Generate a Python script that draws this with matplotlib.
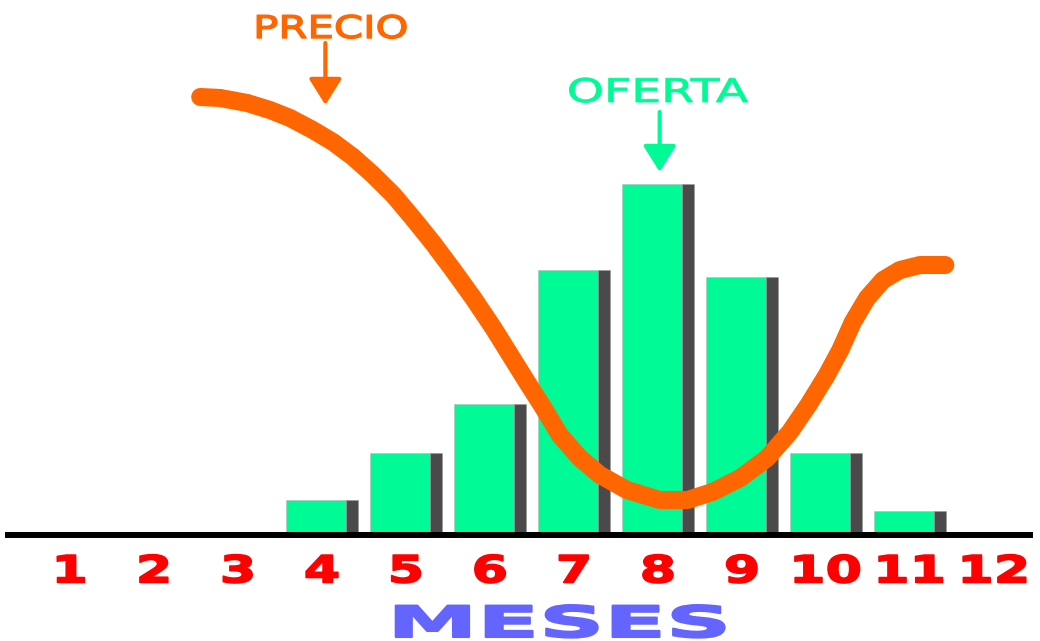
import numpy as np
import matplotlib
matplotlib.use("Agg")
import matplotlib.pyplot as plt
import matplotlib.patheffects as pe
from matplotlib.transforms import Affine2D

# offer (bars) per month, arbitrary units
months = [1, 2, 3, 4, 5, 6, 7, 8, 9, 10, 11, 12]
month_labels = ["1", "2", "3", "4", "5", "6", "7", "8", "9", "10", "11", "12"]
bar_months = [4, 5, 6, 7, 8, 9, 10, 11]
oferta = [3.5, 8.2, 13.1, 26.5, 35.1, 25.8, 8.2, 2.4]

# price curve
precio_x = [2.55, 2.79, 3.11, 3.38, 3.62, 3.89, 4.13, 4.37, 4.61, 4.85,
            5.08, 5.32, 5.56, 5.80, 6.04, 6.24, 6.44, 6.63, 6.83, 7.07,
            7.31, 7.63, 8.02, 8.35, 8.65, 8.98, 9.30, 9.57, 9.79, 10.01,
            10.17, 10.32, 10.49, 10.68, 10.88, 11.12, 11.42]
precio_y = [43.8, 43.7, 43.2, 42.5, 41.7, 40.5, 39.3, 37.8, 36.0, 34.0,
            31.7, 29.2, 26.5, 23.7, 20.7, 18.0, 15.3, 12.8, 10.0, 7.7,
            6.0, 4.5, 3.5, 3.5, 4.3, 5.7, 7.7, 10.3, 13.0, 16.0,
            18.5, 21.3, 23.7, 25.5, 26.5, 27.0, 27.0]

GREEN = "#00FA96"
SHADOW = "#4A4A4A"
ORANGE = "#FF6600"
RED = "#FF0000"
BLUE = "#6464FF"


class Stretch(pe.AbstractPathEffect):
    # widen text horizontally around its own centre, optionally thicken it
    def __init__(self, sx, stroke=0):
        super().__init__()
        self.sx = sx
        self.stroke = stroke

    def draw_path(self, renderer, gc, tpath, affine, rgbFace=None):
        ext = tpath.get_extents(affine)
        cx = (ext.x0 + ext.x1) / 2
        affine = affine + Affine2D().translate(-cx, 0).scale(self.sx, 1).translate(cx, 0)
        gc0 = renderer.new_gc()
        gc0.copy_properties(gc)
        if self.stroke:
            gc0.set_linewidth(self.stroke)
            gc0.set_foreground(rgbFace)
            gc0.set_joinstyle("round")
        renderer.draw_path(gc0, tpath, affine, rgbFace)
        gc0.restore()


fig = plt.figure(figsize=(10.4, 6.41), dpi=100)
ax = fig.add_axes([0, 106 / 641, 1, 535 / 641])
ax.set_xlim(1 - 70 / 84, 1 + 970 / 84)
ax.set_ylim(0, 53.5)

left = np.array(bar_months) - 0.43
ax.bar(left, oferta, width=0.714, align="edge", color=GREEN,
       edgecolor="#BBBBBB", linewidth=0.4, zorder=2)
ax.bar(left + 0.714, oferta, width=0.143, align="edge", color=SHADOW,
       edgecolor="#999999", linewidth=0.4, zorder=2)

ax.plot(precio_x, precio_y, color=ORANGE, lw=13, solid_capstyle="round",
        solid_joinstyle="round", zorder=3)

# labels with arrows
ax.text(4.11, 49.7, "PRECIO", color=ORANGE, fontsize=22.5, ha="center",
        va="baseline", path_effects=[Stretch(1.34, 1.0)])
ax.annotate("", xy=(4.04, 43.0), xytext=(4.04, 49.2),
            arrowprops=dict(arrowstyle="-|>,head_length=0.8,head_width=0.5",
                            mutation_scale=20, color=ORANGE, lw=3,
                            shrinkA=0, shrinkB=0))
ax.text(8.0, 43.3, "OFERTA", color=GREEN, fontsize=23.5, ha="center",
        va="baseline", path_effects=[Stretch(1.45, 0.6)])
ax.annotate("", xy=(8.02, 36.3), xytext=(8.02, 42.3),
            arrowprops=dict(arrowstyle="-|>,head_length=0.8,head_width=0.5",
                            mutation_scale=20, color=GREEN, lw=3,
                            shrinkA=0, shrinkB=0))

# axis: only the bottom line
for side in ["top", "left", "right"]:
    ax.spines[side].set_visible(False)
ax.spines["bottom"].set_linewidth(4.3)
ax.spines["bottom"].set_color("black")
ax.spines["bottom"].set_bounds(1 - 62 / 84, 1 + 960 / 84)
ax.spines["bottom"].set_zorder(4)
ax.set_yticks([])
ax.set_xticks(months)
ax.set_xticklabels(month_labels, color=RED, fontsize=27, fontweight="bold")
ax.tick_params(axis="x", length=0, pad=14)
ax.patch.set_visible(False)

ax.text(6.83, -10.2, "MESES", color=BLUE, fontsize=31, fontweight="bold",
        ha="center", va="baseline", clip_on=False,
        path_effects=[Stretch(2.1, 1.5)])

fig.canvas.draw()
for lbl in ax.get_xticklabels():
    lbl.set_path_effects([Stretch(1.4, 1.2)])

fig.savefig("out.png", dpi=100)
